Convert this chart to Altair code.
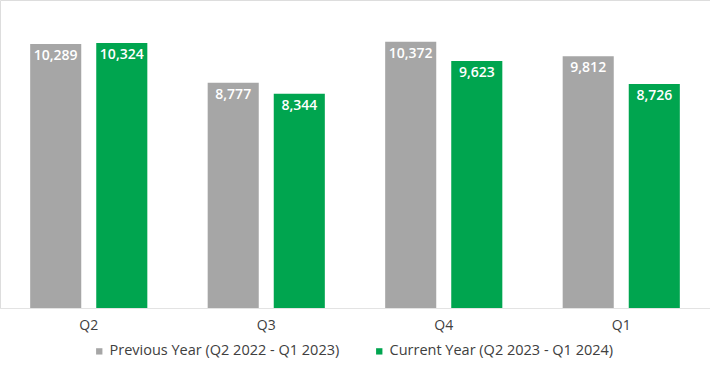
import altair as alt
import pandas as pd

quarters = ["Q2", "Q3", "Q4", "Q1"]
series = ["Previous Year (Q2 2022 - Q1 2023)", "Current Year (Q2 2023 - Q1 2024)"]
previous = [10289, 8777, 10372, 9812]
current = [10324, 8344, 9623, 8726]
colors = ["#a6a6a6", "#00a54f"]

rows = []
for i, q in enumerate(quarters):
    rows.append({"quarter": q, "series": series[0], "value": previous[i]})
    rows.append({"quarter": q, "series": series[1], "value": current[i]})
df = pd.DataFrame(rows)
df["label"] = df["value"].map(lambda v: f"{v:,}")

FONT = "Open Sans"

x = alt.X("quarter:N", sort=quarters, title=None,
          scale=alt.Scale(paddingInner=0.34, paddingOuter=0.17),
          axis=alt.Axis(labelAngle=0, ticks=False, domain=True, domainColor="#e3e3e3",
                        domainWidth=1, labelPadding=10, labelFontSize=14,
                        labelColor="#404040", labelFont=FONT))
xoff = alt.XOffset("series:N", sort=series,
                   scale=alt.Scale(paddingInner=0.227, paddingOuter=0))
y = alt.Y("value:Q", scale=alt.Scale(domain=[0, 12000]), axis=None)

bars = alt.Chart(df).mark_bar().encode(
    x=x, xOffset=xoff, y=y,
    color=alt.Color("series:N", sort=series,
                    scale=alt.Scale(domain=series, range=colors),
                    legend=alt.Legend(title=None, orient="none", direction="horizontal",
                                      legendX=92, legendY=344, symbolType="square",
                                      symbolSize=40, labelFontSize=14.5, labelColor="#404040",
                                      labelFont=FONT, labelLimit=0, columnPadding=32,
                                      symbolStrokeWidth=0, labelOffset=3)),
)

labels = alt.Chart(df).mark_text(color="white", fontSize=14, font=FONT,
                                 fontWeight=600, dy=12, baseline="middle").encode(
    x=x, xOffset=xoff, y=y, text="label:N"
)

chart = (bars + labels).properties(
    width=710, height=308,
    autosize=alt.AutoSizeParams(type="none"),
    padding={"left": 0, "top": 0, "right": 0, "bottom": 57},
).configure_view(stroke=None).configure(background="white")

chart.save("out.html", embed_options={"renderer": "svg", "actions": False})
